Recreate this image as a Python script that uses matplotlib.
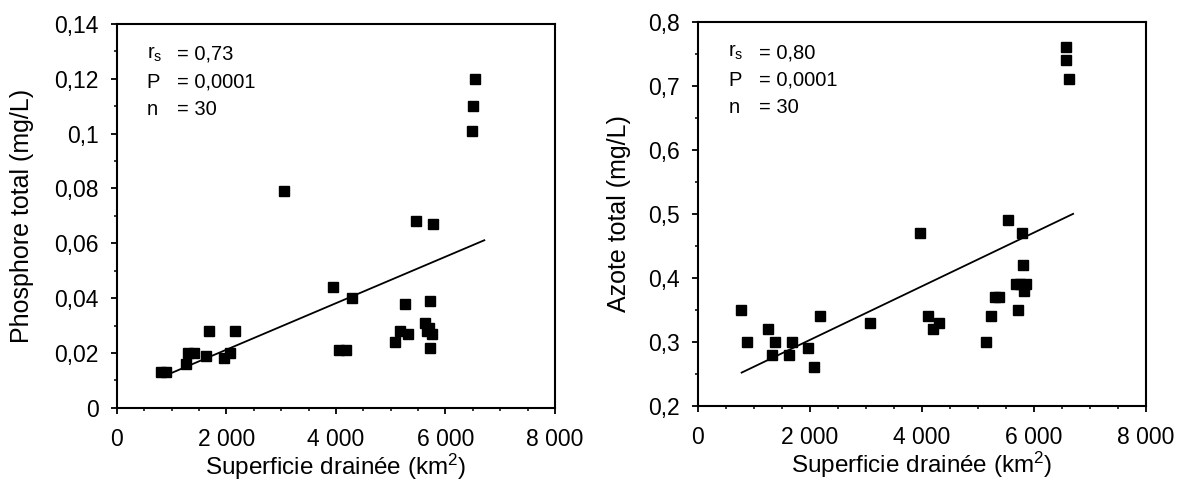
import matplotlib
matplotlib.use("Agg")
import matplotlib.pyplot as plt
from matplotlib.ticker import MultipleLocator

plt.rcParams['font.family'] = ['Liberation Sans', 'DejaVu Sans']
plt.rcParams['mathtext.fontset'] = 'custom'
plt.rcParams['mathtext.rm'] = 'Liberation Sans'
plt.rcParams['mathtext.it'] = 'Liberation Sans'

# Phosphore total vs superficie drainée
p_x = [810, 900, 1270, 1300, 1400, 1620, 1680, 1950, 2070, 2150, 3050, 3950,
       4290, 4060, 4180, 5080, 5170, 5260, 5320, 5460, 5630, 5660, 5700, 5750,
       5710, 5720, 5780, 6480, 6500, 6540]
p_y = [0.013, 0.013, 0.016, 0.020, 0.020, 0.019, 0.028, 0.018, 0.020, 0.028,
       0.079, 0.044, 0.040, 0.021, 0.021, 0.024, 0.028, 0.038, 0.027, 0.068,
       0.031, 0.028, 0.029, 0.027, 0.022, 0.039, 0.067, 0.101, 0.110, 0.120]
p_fit_x = [970, 6710]
p_fit_y = [0.0125, 0.0611]

# Azote total vs superficie drainée
n_x = [760, 870, 1250, 1330, 1380, 1620, 1680, 1960, 2070, 2180, 3080, 3970,
       4100, 4200, 4310, 5140, 5230, 5310, 5380, 5530, 5720, 5680, 5760, 5850,
       5820, 5780, 5800, 6570, 6580, 6630]
n_y = [0.35, 0.30, 0.32, 0.28, 0.30, 0.28, 0.30, 0.29, 0.26, 0.34,
       0.33, 0.47, 0.34, 0.32, 0.33, 0.30, 0.34, 0.37, 0.37, 0.49,
       0.35, 0.39, 0.39, 0.39, 0.38, 0.47, 0.42, 0.76, 0.74, 0.71]
n_fit_x = [780, 6700]
n_fit_y = [0.252, 0.500]

x_ticks = [0, 2000, 4000, 6000, 8000]
x_labels = ['0', '2 000', '4 000', '6 000', '8 000']
p_ticks = [0, 0.02, 0.04, 0.06, 0.08, 0.10, 0.12, 0.14]
p_labels = ['0', '0,02', '0,04', '0,06', '0,08', '0,1', '0,12', '0,14']
n_ticks = [0.2, 0.3, 0.4, 0.5, 0.6, 0.7, 0.8]
n_labels = ['0,2', '0,3', '0,4', '0,5', '0,6', '0,7', '0,8']

p_stats = ['= 0,73', '= 0,0001', '= 30']
n_stats = ['= 0,80', '= 0,0001', '= 30']
stat_names = [r'$\mathregular{r_s}$', 'P', 'n']

fig = plt.figure(figsize=(11.85, 4.95), dpi=100)
ax1 = fig.add_axes([0.0987, 0.176, 0.3696, 0.776])
ax2 = fig.add_axes([0.589, 0.180, 0.378, 0.776])


def style(ax, yticks, ylabels, ymin, ymax, yminor, ylabel, ylab_x):
    ax.set_xlim(0, 8000)
    ax.set_ylim(ymin, ymax)
    ax.set_xticks(x_ticks)
    ax.set_xticklabels(x_labels)
    ax.set_yticks(yticks)
    ax.set_yticklabels(ylabels)
    ax.xaxis.set_minor_locator(MultipleLocator(500))
    ax.yaxis.set_minor_locator(MultipleLocator(yminor))
    ax.tick_params(which='major', direction='out', length=4, width=1.3,
                   labelsize=16.5, pad=9)
    ax.tick_params(axis='x', which='major', pad=10.5)
    ax.tick_params(which='minor', direction='out', length=2.5, width=1.1)
    for s in ax.spines.values():
        s.set_linewidth(1.5)
    ax.set_xlabel('Superficie drainée (km$^\\mathregular{2}$)', fontsize=17.5)
    ax.xaxis.set_label_coords(0.5, -0.115)
    ax.set_ylabel(ylabel, fontsize=18)
    ax.yaxis.set_label_coords(ylab_x, 0.5)


def stats_text(ax, values):
    for i, (name, val) in enumerate(zip(stat_names, values)):
        y = 0.92 - i * 0.072
        ax.text(0.068, y, name, transform=ax.transAxes, fontsize=14.5,
                va='center', ha='left')
        ax.text(0.137, y, val, transform=ax.transAxes, fontsize=14.5,
                va='center', ha='left')


ax1.plot(p_x, p_y, 's', color='black', markersize=7.5, clip_on=False)
ax1.plot(p_fit_x, p_fit_y, '-', color='black', linewidth=1.3)
style(ax1, p_ticks, p_labels, 0, 0.14, 0.01, 'Phosphore total (mg/L)', -0.19)
stats_text(ax1, p_stats)

ax2.plot(n_x, n_y, 's', color='black', markersize=7.5, clip_on=False)
ax2.plot(n_fit_x, n_fit_y, '-', color='black', linewidth=1.3)
style(ax2, n_ticks, n_labels, 0.2, 0.8, 0.05, 'Azote total (mg/L)', -0.15)
stats_text(ax2, n_stats)

fig.savefig('out.png', dpi=100)
